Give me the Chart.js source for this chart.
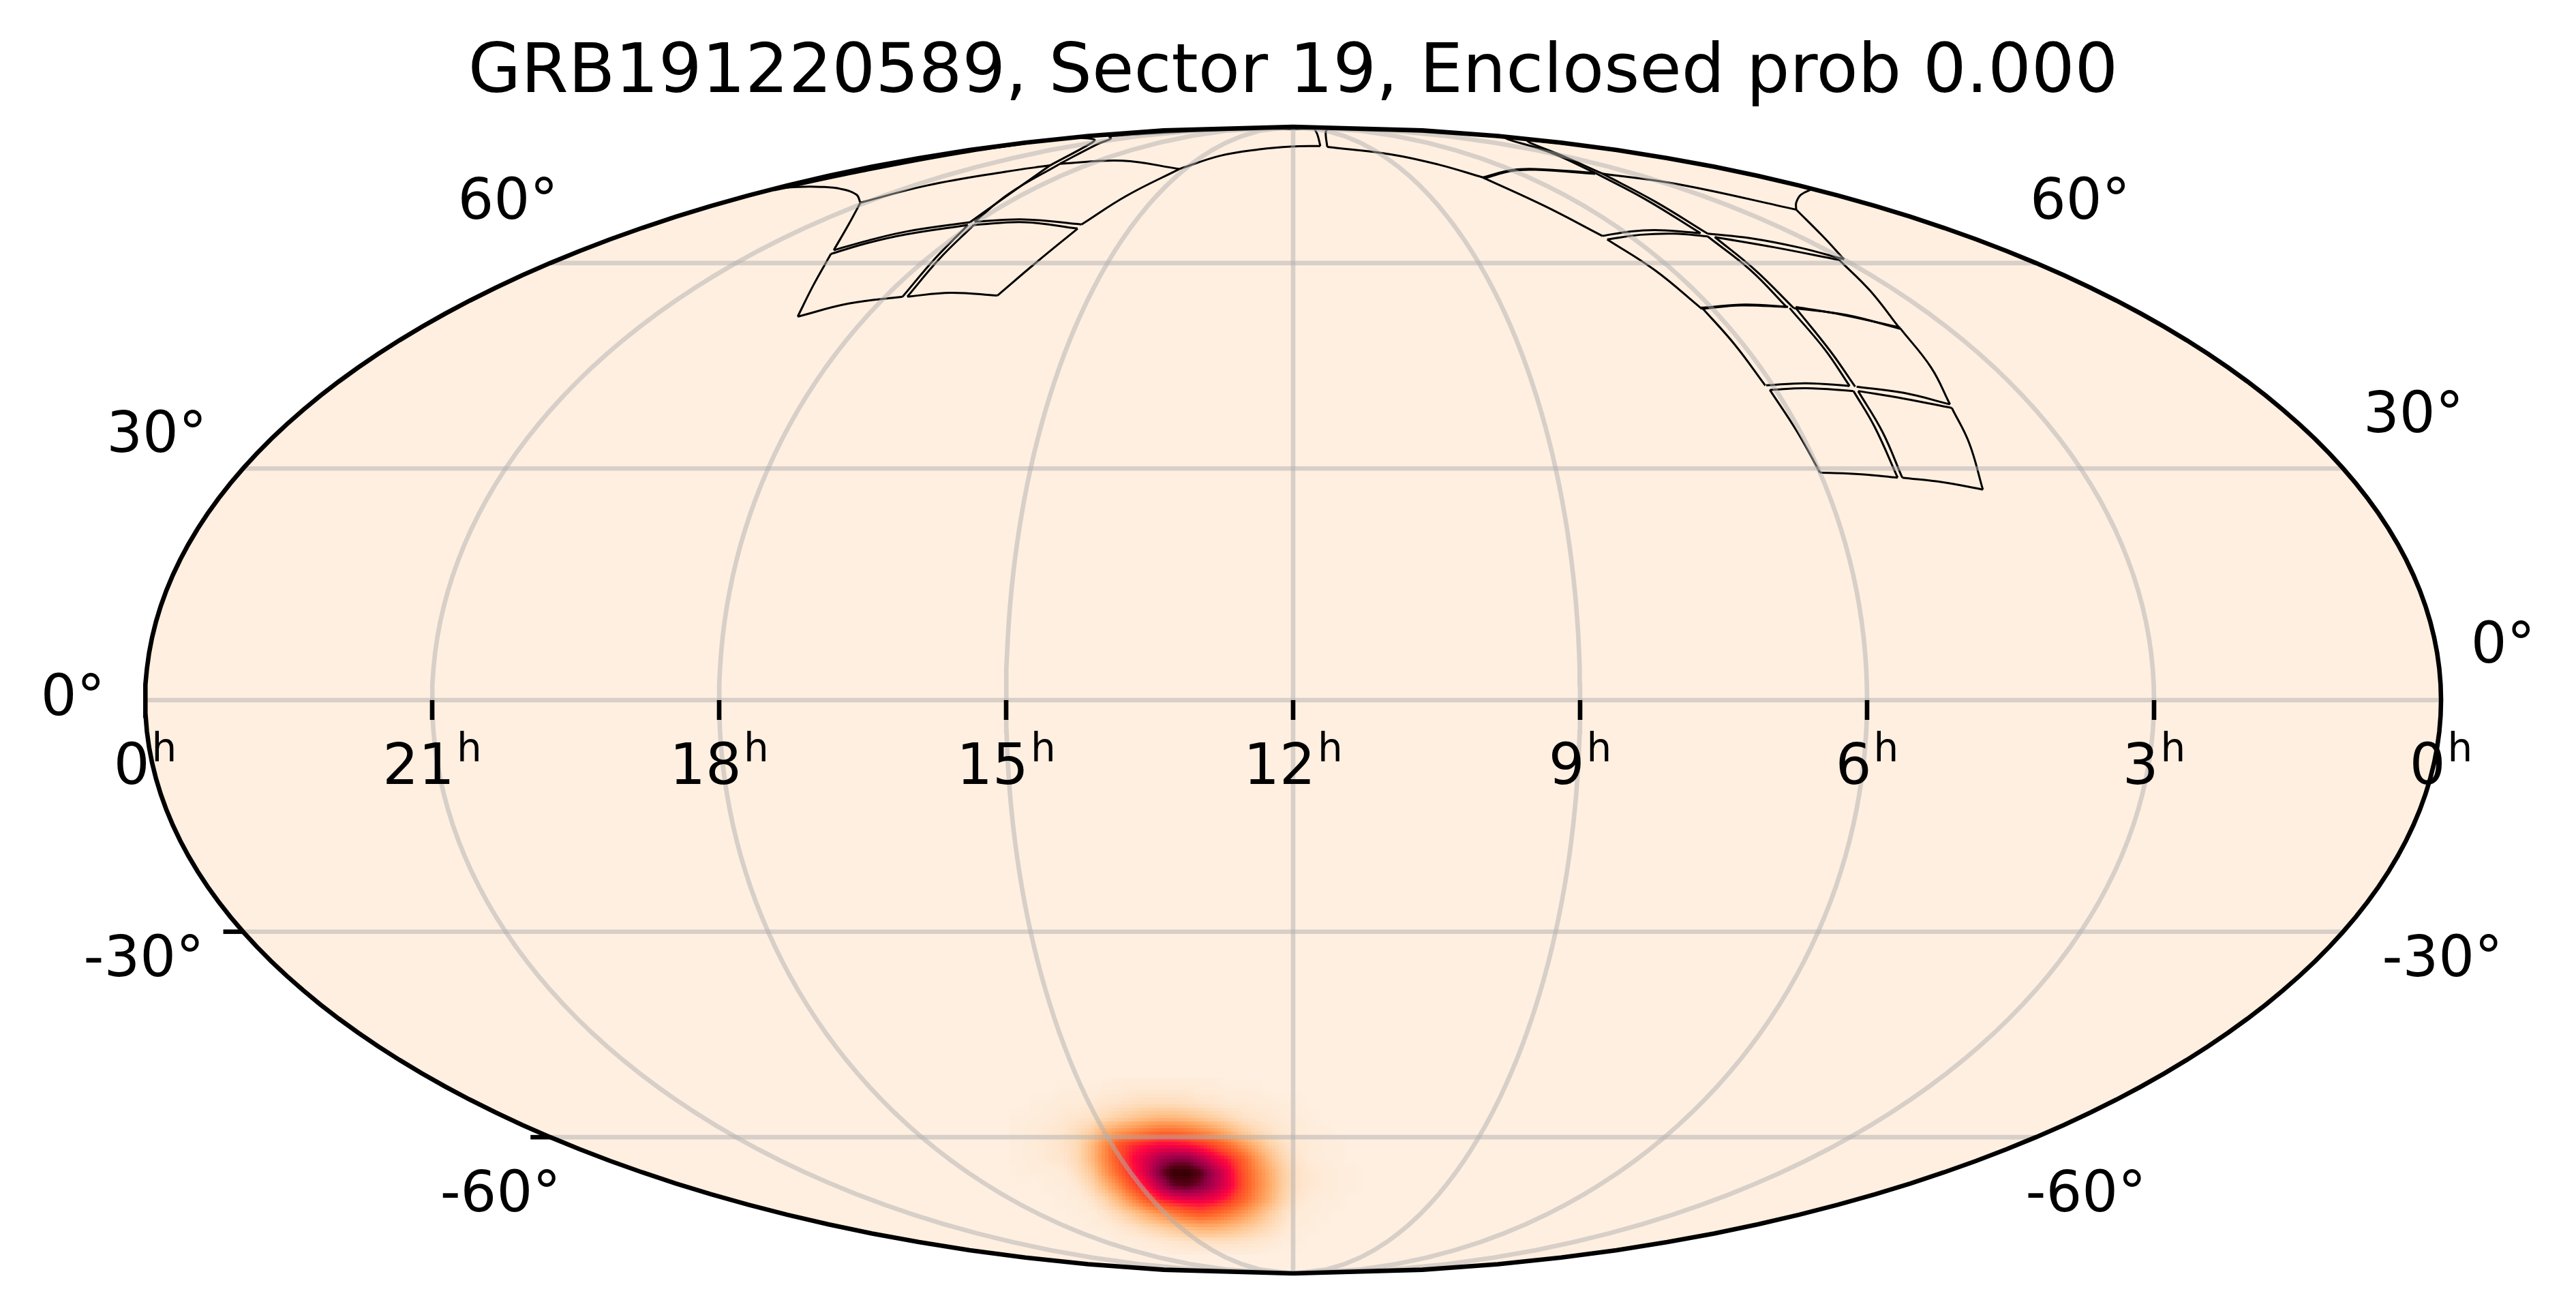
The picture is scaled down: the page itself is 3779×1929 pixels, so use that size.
<!DOCTYPE html>
<html>
<head>
<meta charset="utf-8">
<title>GRB191220589</title>
<script src="https://cdn.jsdelivr.net/npm/chart.js@4/dist/chart.umd.min.js"></script>
<style>
  html, body { margin: 0; padding: 0; background: #fff; }
  canvas { display: block; }
</style>
</head>
<body>
<canvas id="grafico" width="3779" height="1929"></canvas>
<script>
// chart axes are the projected sky: x and y both run -1..1 across the ellipse
var titulo = 'GRB191220589, Sector 19, Enclosed prob 0.000';

var hourTicks = [24, 21, 18, 15, 12, 9, 6, 3, 0];
var hourLabels = ['0', '21', '18', '15', '12', '9', '6', '3', '0'];
var decLines = [-60, -30, 0, 30, 60];
var decLabels = ['0°', '0°', '30°', '30°', '60°', '60°', '-30°', '-30°', '-60°', '-60°'];

// probability map, percent of the peak
var heatX = [-.2468, -.2349, -.2230, -.2112, -.1993, -.1874, -.1755, -.1636, -.1518, -.1399, -.1280, -.1161, -.1043, -.0924, -.0805, -.0686, -.0567, -.0448, -.0330, -.0211, -.0092, .0027, .0146, .0264, .0383, .0502, .0621];
var heatY = [-.6576, -.6813, -.7051, -.7289, -.7527, -.7765, -.8002, -.8240, -.8478, -.8716, -.8954, -.9191, -.9429, -.9667];
var heatValues = [
  [0,0,0,0, 0,0,0,0,1,1,1,1,1,1,1,1,0,0,0,0,0,0, 0,0,0,0,0],
  [0,0,0,0, 1,1,1,2,2,3,3,3,3,3,2,2,1,1,1,0,0,0, 0,0,0,0,0],
  [0,0,1,1, 2,2,3,4,5,6,7,7,7,6,5,4,3,3,2,2,1,1, 0,0,0,0,0],
  [1,1,1,2, 3,4,5,8,11,14,17,19,19,17,14,11,8,5,4,3,2,1, 1,0,0,0,0],
  [1,1,2,3, 4,7,11,22,28,33,38,42,42,39,34,28,20,13,8,5,3,2, 1,1,0,0,0],
  [1,1,2,3, 5,8,18,33,50,58,62,65,65,63,58,52,42,30,20,11,6,3, 2,1,1,0,0],
  [1,1,2,3, 4,8,18,34,50,63,71,80,85,85,78,68,60,47,31,18,9,4, 2,1,1,0,0],
  [0,1,1,1, 2,6,13,29,45,60,72,88,99,100,93,80,68,52,36,23,12,5, 3,2,1,1,0],
  [0,0,0,1, 1,3,8,19,33,50,63,77,90,92,87,78,68,53,37,24,12,5, 3,2,1,1,0],
  [0,0,0,0, 1,1,4,9,19,33,47,59,65,68,68,65,58,46,33,21,10,4, 2,1,1,0,0],
  [0,0,0,0, 0,1,1,4,8,14,22,30,38,45,49,45,38,30,21,12,6,2, 1,1,0,0,0],
  [0,0,0,0, 0,0,1,1,3,5,8,11,15,19,22,22,19,15,11,7,4,1, 1,0,0,0,0],
  [0,0,0,0, 0,0,0,0,1,1,2,3,4,5,6,6,6,5,4,3,1,1, 0,0,0,0,0],
  [0,0,0,0, 0,0,0,0,0,0,0,0,1,1,1,1,1,1,1,0,0,0, 0,0,0,0,0]
];
var heatStops = [0, 3, 10, 20, 30, 42, 52, 58, 63, 70, 78, 86, 92, 100];
var heatColors = [
  [254,239,224], [254,232,211], [254,211,169], [255,181,119], [255,149,80], [255,108,46], [255,74,40],
  [255,42,50], [255,8,64], [224,0,72], [180,0,78], [138,0,64], [90,0,24], [48,0,0]
];

// footprint outlines, each cell is a list of curved edges
var leftA = [
  [[-.4353,.6681],[-.4217,.7226],[-.4064,.7771]],
  [[-.4064,.7771],[-.3742,.7962],[-.3402,.8113],[-.2876,.8273]],
  [[-.2876,.8273],[-.3164,.7684],[-.3443,.7027]],
  [[-.3443,.7027],[-.3911,.6908],[-.4353,.6681]]
];
var leftB = [
  [[-.3402,.7027],[-.3029,.7095],[-.2621,.7047]],
  [[-.2621,.7047],[-.2282,.7624],[-.1925,.8209]],
  [[-.1925,.8209],[-.2383,.832],[-.2825,.8273]],
  [[-.2825,.8273],[-.3124,.7684],[-.3402,.7027]]
];
var leftC = [
  [[-.4040,.7835],[-.3911,.8281],[-.3809,.8659]],
  [[-.3809,.8659],[-.3232,.8957],[-.2553,.9196],[-.2163,.9307]],
  [[-.2163,.9307],[-.2553,.8758],[-.2859,.832]],
  [[-.2859,.832],[-.3402,.8161],[-.3742,.8002],[-.4040,.7835]]
];
var leftD = [
  [[-.2818,.8328],[-.2383,.8368],[-.1891,.8281]],
  [[-.1891,.8281],[-.1501,.8778],[-.1042,.9244]],
  [[-.1042,.9244],[-.1535,.9387],[-.2078,.9335]],
  [[-.2078,.9335],[-.2519,.8818],[-.2818,.8328]]
];
var leftE = [
  [[-.3809,.8659],[-.3843,.8798],[-.3979,.8898],[-.4149,.8933],[-.4353,.8933],[-.4556,.8898]],
  [[-.2163,.9307],[-.1806,.9694],[-.1779,.9753],[-.1908,.9781],[-.2078,.9773]],
  [[-.2078,.9773],[-.30,.9495],[-.38,.9195],[-.4556,.8875]]
];
var leftF = [
  [[-.2078,.9335],[-.1755,.9674],[-.1637,.9773],[-.1654,.9813]],
  [[-.1654,.9813],[-.1365,.9853],[-.0686,.992],[.0129,.9944]],
  [[.0129,.9944],[.0156,.9833],[.0180,.9642]],
  [[.0180,.9642],[-.0075,.9634],[-.0347,.9586],[-.0686,.9475],[-.1042,.9244]]
];
var rightPoleA = [
  [[.0252,.9952],[.0227,.9893],[.0240,.9626]],
  [[.0240,.9626],[.0800,.9495],[.1215,.9315],[.1589,.9097]],
  [[.1589,.9097],[.1838,.9224],[.2045,.9244],[.2564,.9176]],
  [[.2564,.9176],[.2170,.9534],[.1817,.9753],[.1775,.9793]],
  [[.1775,.9793],[.1007,.9912],[.0252,.9952]]
];
var rightPoleB = [
  [[.2626,.9164],[.2253,.9495],[.2004,.9694],[.1962,.9753]],
  [[.1962,.9753],[.2875,.9535],[.3705,.9235],[.4452,.890]],
  [[.4452,.890],[.4348,.8798],[.4307,.8659],[.4307,.8539]],
  [[.4307,.8539],[.3290,.8977],[.2626,.9164]]
];
var right1A = [
  [[.1600,.9080],[.1838,.9210],[.2045,.9230],[.2564,.9160]],
  [[.2564,.9176],[.2999,.8718],[.3477,.8129]],
  [[.3477,.8129],[.3124,.8181],[.2875,.8161],[.2626,.8082]],
  [[.2626,.8082],[.2128,.8599],[.1589,.9097]]
];
var right1B = [
  [[.4307,.8539],[.4535,.8082],[.4722,.7676]],
  [[.4722,.7676],[.4328,.7883],[.3913,.8042],[.3539,.8121]],
  [[.3539,.8121],[.3083,.8679],[.2626,.9164]]
];
var right2A = [
  [[.2668,.8022],[.2958,.8102],[.3249,.8121],[.3539,.8074]],
  [[.3539,.8074],[.3913,.7485],[.4224,.6848]],
  [[.4224,.6848],[.3830,.6876],[.3489,.6816]],
  [[.3489,.6816],[.3083,.7485],[.2668,.8022]]
];
var right2B = [
  [[.3601,.8062],[.4120,.7883],[.4680,.7664]],
  [[.4680,.7664],[.4950,.7126],[.5207,.647]],
  [[.5207,.647],[.4743,.6709],[.4286,.6828]],
  [[.4286,.6828],[.3954,.7485],[.3601,.8062]]
];
var right3A = [
  [[.3498,.6838],[.3867,.689],[.4237,.685]],
  [[.4250,.683],[.4554,.6114],[.4770,.5477]],
  [[.4770,.5477],[.4395,.5525],[.4047,.5489]],
  [[.4039,.5485],[.3775,.6193],[.3484,.685]]
];
var right3B = [
  [[.4303,.685],[.4712,.6711],[.5208,.6492]],
  [[.5208,.648],[.5478,.5795],[.5641,.5158]],
  [[.5641,.5158],[.5240,.5357],[.4831,.5465]],
  [[.4818,.5465],[.4606,.6074],[.4303,.683]]
];
var right4A = [
  [[.4078,.5409],[.4395,.5437],[.4804,.5389]],
  [[.4804,.5389],[.4989,.476],[.5187,.3885]],
  [[.5187,.3885],[.4870,.3944],[.4514,.3972]],
  [[.4514,.3972],[.4316,.468],[.4078,.5409]]
];
var right4B = [
  [[.4844,.5389],[.5240,.5258],[.5657,.5095]],
  [[.5657,.5095],[.5808,.4482],[.5926,.3678]],
  [[.5926,.3678],[.5583,.3805],[.5227,.3885]],
  [[.5227,.3885],[.5055,.468],[.4844,.5389]]
];
var footprints = [leftA, leftB, leftC, leftD, leftE, leftF, rightPoleA, rightPoleB,
  right1A, right1B, right2A, right2B, right3A, right3B, right4A, right4B];

// outlines were read against a slightly larger ellipse, this brings them onto the axes
var ajusteX = [1.00446, .00564];
var ajusteY = [1.00476, -.00238];

// where the Dec labels sit, same order as decLabels
var decLabelSpots = [[-1.063,0],[1.054,.0916],[-.990,.459],[.976,.4935],[-.684,.8656],[.6856,.8656],[-1.0012,-.4554],[1.0012,-.4554],[-.6905,-.8656],[.6906,-.8656]];

var FONTE = '"DejaVu Sans", sans-serif';
var COR_FUNDO = '#feefe0';
var COR_GRADE = 'rgba(176,176,176,0.5)';

// mollweide: auxiliary angle for a declination
var anguloAux = function(dec){
	var phi = dec * Math.PI / 180;
	if(Math.abs(dec) >= 90){
		return phi;
	}
	var t = phi;
	for (var i = 0; i < 60; i++) {
		t = t - (2 * t + Math.sin(2 * t) - Math.PI * Math.sin(phi)) / (2 + 2 * Math.cos(2 * t));
	}
	return t;
};

var projetar = function(hora, dec){
	var t = anguloAux(dec);
	return { x: (12 - hora) / 12 * Math.cos(t), y: Math.sin(t) };
};

var meridiano = function(hora){
	var pontos = [];
	for (var d = -90; d <= 90; d += 2) {
		pontos.push(projetar(hora, d));
	}
	return pontos;
};

var corDoValor = function(v){
	for (var i = 1; i < heatStops.length; i++) {
		if(v <= heatStops[i]){
			var f = (v - heatStops[i - 1]) / (heatStops[i] - heatStops[i - 1]);
			var a = heatColors[i - 1], b = heatColors[i];
			return 'rgb(' + Math.round(a[0] + (b[0] - a[0]) * f) + ',' + Math.round(a[1] + (b[1] - a[1]) * f) + ',' + Math.round(a[2] + (b[2] - a[2]) * f) + ')';
		}
	}
	return 'rgb(48,0,0)';
};

var indiceEm = function(lista, valor){
	var passo = (lista[lista.length - 1] - lista[0]) / (lista.length - 1);
	return (valor - lista[0]) / passo;
};

var valorEm = function(x, y){
	var cx = indiceEm(heatX, x), cy = indiceEm(heatY, y);
	if(cx < 0 || cy < 0 || cx >= heatX.length - 1 || cy >= heatY.length - 1){
		return 0;
	}
	var i = Math.floor(cx), j = Math.floor(cy), fx = cx - i, fy = cy - j;
	var topo = heatValues[j][i] * (1 - fx) + heatValues[j][i + 1] * fx;
	var base = heatValues[j + 1][i] * (1 - fx) + heatValues[j + 1][i + 1] * fx;
	return topo * (1 - fy) + base * fy;
};

var datasets = [];

datasets.push({
	label: 'ceu',
	data: meridiano(24).concat(meridiano(0).reverse()),
	showLine: true, pointRadius: 0, borderWidth: 0, borderColor: COR_FUNDO,
	backgroundColor: COR_FUNDO, fill: 'shape', order: 50, clip: false
});

var celulas = [];
heatY.forEach(function(y, j){
	heatX.forEach(function(x, i){
		celulas.push({ x: x, y: y, v: heatValues[j][i] });
	});
});
datasets.push({ label: 'probabilidade', data: celulas, pointRadius: 0, order: 40 });

footprints.forEach(function(celula){
	celula.forEach(function(borda){
		datasets.push({
			label: 'footprint',
			data: borda.map(function(p){
				return { x: p[0] * ajusteX[0] + ajusteX[1], y: p[1] * ajusteY[0] + ajusteY[1] };
			}),
			showLine: true, pointRadius: 0, borderColor: '#000', borderWidth: 3,
			tension: 0.4, fill: false, order: 30, clip: false
		});
	});
});

hourTicks.slice(1, -1).forEach(function(h){
	datasets.push({
		label: 'grade', data: meridiano(h), showLine: true, pointRadius: 0,
		borderColor: COR_GRADE, borderWidth: 6.6, fill: false, order: 20
	});
});

decLines.forEach(function(d){
	datasets.push({
		label: 'grade', data: [projetar(0, d), projetar(24, d)], showLine: true, pointRadius: 0,
		borderColor: COR_GRADE, borderWidth: 6.6, fill: false, order: 20
	});
});

datasets.push({
	label: 'borda',
	data: meridiano(24).concat(meridiano(0).reverse()),
	showLine: true, pointRadius: 0, borderColor: '#000', borderWidth: 6.6,
	fill: false, order: 10, clip: false
});

var mapaCalor = {
	id: 'mapaCalor',
	beforeDatasetDraw: function(chart, args){
		if(chart.data.datasets[args.index].label !== 'probabilidade'){
			return;
		}
		var ctx = chart.ctx, sx = chart.scales.x, sy = chart.scales.y;
		var x0 = Math.floor(sx.getPixelForValue(heatX[0])), x1 = Math.ceil(sx.getPixelForValue(heatX[heatX.length - 1]));
		var y0 = Math.floor(sy.getPixelForValue(heatY[0])), y1 = Math.ceil(sy.getPixelForValue(heatY[heatY.length - 1]));
		var bloco = 5;
		for (var py = y0; py < y1; py += bloco) {
			for (var px = x0; px < x1; px += bloco) {
				var v = valorEm(sx.getValueForPixel(px + bloco / 2), sy.getValueForPixel(py + bloco / 2));
				if(v > 0.2){
					ctx.fillStyle = corDoValor(v);
					ctx.fillRect(px, py, bloco, bloco);
				}
			}
		}
	}
};

var textos = {
	id: 'textos',
	afterDatasetsDraw: function(chart){
		var ctx = chart.ctx, sx = chart.scales.x, sy = chart.scales.y;
		var y0 = sy.getPixelForValue(0);
		ctx.save();
		ctx.fillStyle = '#000';
		ctx.strokeStyle = '#000';
		ctx.lineWidth = 6.6;

		// ticks
		hourTicks.slice(1, -1).forEach(function(h){
			var px = sx.getPixelForValue((12 - h) / 12);
			ctx.beginPath();
			ctx.moveTo(px, y0);
			ctx.lineTo(px, y0 + 29);
			ctx.stroke();
		});
		[-30, -60].forEach(function(d){
			var p = projetar(24, d);
			var px = sx.getPixelForValue(p.x), py = sy.getPixelForValue(p.y);
			ctx.beginPath();
			ctx.moveTo(px, py);
			ctx.lineTo(px - 29, py);
			ctx.stroke();
		});

		// hour labels, digits with a raised h
		var folga = 3;
		ctx.textBaseline = 'alphabetic';
		ctx.textAlign = 'left';
		hourTicks.forEach(function(h, i){
			ctx.font = '83px ' + FONTE;
			var largura = ctx.measureText(hourLabels[i]).width;
			ctx.font = '58px ' + FONTE;
			var larguraH = ctx.measureText('h').width;
			var inicio = sx.getPixelForValue((12 - h) / 12) - (largura + larguraH + folga) / 2;
			ctx.font = '83px ' + FONTE;
			ctx.fillText(hourLabels[i], inicio, y0 + 123);
			ctx.font = '58px ' + FONTE;
			ctx.fillText('h', inicio + largura + folga, y0 + 90);
		});

		// Dec labels
		ctx.font = '83px ' + FONTE;
		ctx.textAlign = 'center';
		ctx.textBaseline = 'middle';
		decLabels.forEach(function(txt, i){
			var s = decLabelSpots[i];
			ctx.fillText(txt, sx.getPixelForValue(s[0]), sy.getPixelForValue(s[1]));
		});
		ctx.restore();
	}
};

var grafico = new Chart(document.getElementById('grafico'), {
	type: 'scatter',
	data: { datasets: datasets },
	plugins: [mapaCalor, textos],
	options: {
		responsive: false,
		devicePixelRatio: 1,
		animation: false,
		layout: { padding: { left: 213, right: 198, top: 0, bottom: 61 } },
		plugins: {
			legend: { display: false },
			tooltip: { enabled: false },
			title: {
				display: true,
				fullSize: false,
				text: titulo,
				color: '#000',
				font: { family: FONTE, size: 100, weight: 'normal', lineHeight: 1.2 },
				padding: { top: 49, bottom: 17 }
			}
		},
		scales: {
			x: { type: 'linear', min: -1, max: 1, display: false },
			y: { type: 'linear', min: -1, max: 1, display: false }
		}
	}
});
</script>
</body>
</html>
